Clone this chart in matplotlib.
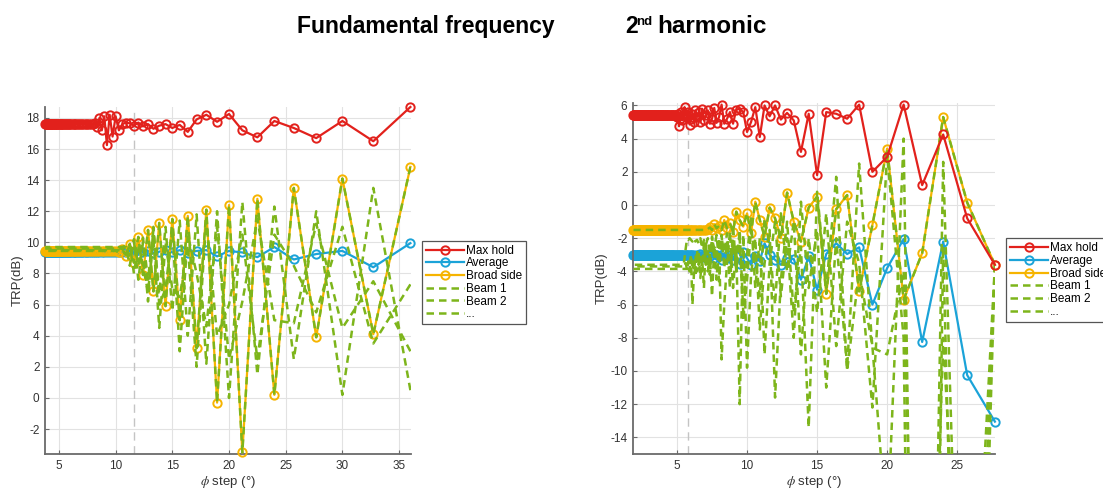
import matplotlib.pyplot as plt
import numpy as np

plt.rcParams['font.family'] = ['Liberation Sans', 'DejaVu Sans']
plt.rcParams['mathtext.fontset'] = 'stix'
plt.rcParams['axes.unicode_minus'] = False

RED = '#e2211c'
BLUE = '#1ba3d8'
ORANGE = '#f6b400'
GREEN = '#7db51b'

# number of beams per scan, phi step = 360 / N
n_fund = np.arange(10, 96)
n_harm = np.arange(13, 191)

# ---- fundamental frequency (N = 10, 11, 12, ...) ----
max_hold_fund = [18.7, 16.5, 17.8, 16.7, 17.35, 17.8, 16.75, 17.2, 18.25, 17.75, 18.2, 17.9,
                 17.1, 17.55, 17.35, 17.6, 17.5, 17.3, 17.6, 17.45, 17.7, 17.5, 17.65, 17.7,
                 17.6, 17.2, 18.1, 16.8, 18.2, 16.25, 18.1, 17.2, 18.0, 17.4, 17.7]
average_fund = [9.95, 8.4, 9.45, 9.25, 8.9, 9.7, 9.05, 9.35, 9.45, 9.1, 9.5, 9.45,
                9.3, 9.5, 9.35, 9.5, 9.4, 9.3, 9.45, 9.4, 9.5, 9.35, 9.45, 9.4]
broadside_fund = [14.85, 4.1, 14.1, 3.9, 13.5, 0.2, 12.8, -3.5, 12.4, -0.3, 12.1, 3.2,
                  11.7, 5.0, 11.5, 5.9, 11.25, 6.85, 10.8, 7.9, 10.35, 8.7, 9.9, 9.1, 9.6, 9.35]
beam2_fund = [0.5, 13.5, 0.2, 12.0, 2.5, 12.3, 1.5, 12.6, 0.0, 12.0, 2.2, 11.8,
              4.0, 11.4, 5.6, 11.0, 6.7, 10.8, 7.6, 10.3, 8.5, 10.0, 9.0, 9.8]
beam3_fund = [7.3, 3.5, 11.0, 5.5, 8.5, 10.5, 2.5, 10.5, 6.0, 4.0, 11.5, 2.0,
              9.8, 6.5, 7.0, 10.0, 4.5, 10.2, 6.8, 8.5, 9.8, 8.0, 9.9, 9.2]
beam4_fund = [3.0, 7.5, 4.5, 11.2, 4.8, 5.0, 11.5, 6.2, 2.5, 11.0, 4.6, 8.0,
              10.5, 3.0, 10.8, 7.0, 6.0, 11.0, 6.2, 10.0, 7.6, 10.2, 8.5, 9.7]

# ---- 2nd harmonic (N = 13, 14, 15, ...) ----
max_hold_harm = [-3.6, -0.8, 4.25, 1.2, 6.05, 2.9, 2.0, 6.05, 5.2, 5.5, 5.6, 1.8,
                 5.5, 3.2, 5.1, 5.55, 5.15, 6.0, 5.35, 6.0, 4.1, 5.9, 5.0, 4.4,
                 5.6, 5.8, 5.75, 4.9, 5.6, 5.2, 4.9, 6.05, 5.3, 4.95, 5.85, 5.2,
                 4.9, 5.7, 5.4, 5.1, 5.8, 5.0, 5.6, 5.3, 5.7, 5.0, 5.5, 5.2,
                 4.85, 5.6, 5.3, 5.5, 5.9, 5.4, 5.1, 5.6, 5.2, 4.75, 5.5, 5.3]
average_harm = [-13.05, -10.25, -2.2, -8.25, -2.05, -3.8, -6.0, -2.55, -2.95, -2.3, -2.95, -5.1,
                -3.1, -4.5, -3.25, -3.2, -3.6, -3.3, -3.0, -2.3, -3.4, -3.1, -3.6, -3.2,
                -2.8, -3.55, -3.1, -3.3, -3.0, -3.2, -2.9, -3.3, -3.1, -3.0, -3.2, -2.9,
                -3.1, -3.0, -3.2, -3.0, -3.1, -2.95, -3.1, -3.0, -3.05]
broadside_harm = [-3.6, 0.15, 5.3, -2.9, -5.7, 3.4, -1.2, -5.2, 0.6, -0.25, -5.35, 0.5,
                  -0.15, -2.2, -1.0, 0.75, -2.0, -0.8, -0.15, -1.9, -0.9, 0.2, -1.7, -0.5,
                  -1.3, -0.9, -0.4, -1.6, -1.1, -1.4, -0.9, -1.5, -1.25, -1.4, -1.15, -1.5,
                  -1.35, -1.45]
beam2_harm = [-3.6, -45, 2.6, -70, 4.0, -20, -8.5, -4.0, -10.0, 1.7, -5.0, 0.8,
              -13.4, -2.5, -6.5, -1.0, -4.5, -11.6, -1.5, -3.5, -7.5, -2.0, -4.2, -9.8,
              -1.8, -12.0, -2.5, -5.0, -1.6, -3.5, -6.0, -9.3, -2.0, -4.5, -2.5, -5.5,
              -3.0, -4.0, -2.2, -5.0, -3.2, -4.4, -2.8, -4.0, -3.0, -4.2, -6.0, -3.2,
              -4.0, -3.4, -3.9, -3.5]
beam3_harm = [-3.6, -60, -2.5, -90, -8.0, 3.0, -12.2, -3.5, -1.0, -8.5, -0.5, -6.5,
              -2.0, -9.0, -1.0, -4.0, -0.5, -6.0, -2.5, -0.8, -5.5, -3.0, -1.5, -4.5,
              -7.0, -2.0, -4.0, -1.2, -5.0, -2.2, -3.8, -1.8, -4.6, -2.6, -3.2, -1.9,
              -4.2, -2.8, -3.6, -2.3, -4.0, -3.0, -3.6, -2.7, -4.3, -3.4, -3.9, -3.0]
beam4_harm = [-3.6, -35, -8.0, -50, -4.0, -9.0, -8.6, 2.5, -9.8, -2.0, -11.0, -1.5,
              -5.0, 0.2, -8.0, -2.0, -5.5, -1.0, -3.5, -9.0, -2.0, -5.0, -0.8, -3.0,
              -6.5, -1.5, -3.8, -2.3, -4.0, -1.7, -2.8, -2.0, -3.5, -1.8, -2.6, -2.1,
              -2.9, -2.0, -2.4, -2.1, -2.6, -2.0, -2.3, -2.1, -2.2, -2.0, -2.2, -2.1,
              -2.0, -2.1, -2.05, -2.6, -3.2]


def pad(values, flat, n):
    # the long tail of small phi steps is flat in the measurement
    return np.array(list(values) + [flat] * (n - len(values)))


def draw_panel(ax, n, series, beams, xlim, ylim, yticks, xticks, vline):
    phi = 360.0 / n
    mk = dict(marker='o', markersize=6, markerfacecolor='none', markeredgewidth=1.4)

    ax.axvline(vline, color='#c4c4c4', lw=1.0, dashes=(6, 4), zorder=1)
    ax.plot(phi, series['avg'], color=BLUE, lw=1.6, markeredgecolor=BLUE, zorder=2,
            clip_on=False, **mk)
    ax.plot(phi, series['bs'], color=ORANGE, lw=1.6, markeredgecolor=ORANGE, zorder=3,
            clip_on=False, **mk)
    for b in beams:
        ax.plot(phi, b, color=GREEN, lw=1.8, dashes=(3, 2), zorder=4)
    ax.plot(phi, series['max'], color=RED, lw=1.6, markeredgecolor=RED, zorder=5,
            clip_on=False, **mk)

    ax.set_xlim(*xlim)
    ax.set_ylim(*ylim)
    ax.set_xticks(xticks)
    ax.set_yticks(yticks)
    ax.grid(True, color='#e2e2e2', lw=0.8)
    ax.set_axisbelow(True)
    for s in ['top', 'right']:
        ax.spines[s].set_visible(False)
    for s in ['left', 'bottom']:
        ax.spines[s].set_color('#6a6a6a')
        ax.spines[s].set_linewidth(1.3)
    ax.tick_params(direction='in', length=3, width=0.8, color='#6a6a6a',
                   labelsize=8.5, labelcolor='#333333', pad=4)
    ax.set_xlabel(r'$\phi$ step (°)', fontsize=9.5, color='#333333', labelpad=2)
    ax.set_ylabel('TRP(dB)', fontsize=9.5, color='#333333', labelpad=2)

    handles = [
        plt.Line2D([], [], color=RED, lw=1.6, markeredgecolor=RED, **mk),
        plt.Line2D([], [], color=BLUE, lw=1.6, markeredgecolor=BLUE, **mk),
        plt.Line2D([], [], color=ORANGE, lw=1.6, markeredgecolor=ORANGE, **mk),
        plt.Line2D([], [], color=GREEN, lw=1.8, dashes=(3, 2)),
        plt.Line2D([], [], color=GREEN, lw=1.8, dashes=(3, 2)),
        plt.Line2D([], [], color=GREEN, lw=1.8, dashes=(3, 2)),
    ]
    labels = ['Max hold', 'Average', 'Broad side', 'Beam 1', 'Beam 2', '...']
    leg = ax.legend(handles, labels, loc='upper left', bbox_to_anchor=(1.03, 0.615),
                    borderaxespad=0, fontsize=8.5, handlelength=3.2, handletextpad=0.2,
                    labelspacing=0.06, borderpad=0.35, fancybox=False, framealpha=1,
                    numpoints=1)
    leg.get_frame().set_edgecolor('#555555')
    leg.get_frame().set_linewidth(0.9)


def main():
    fig = plt.figure(figsize=(11.03, 4.91), dpi=100)
    ax1 = fig.add_axes([0.0408, 0.0754, 0.3318, 0.7067])
    ax2 = fig.add_axes([0.5739, 0.0754, 0.3282, 0.7149])

    nf = len(n_fund)
    fund = {
        'max': pad(max_hold_fund, 17.6, nf),
        'avg': pad(average_fund, 9.4, nf),
        'bs': pad(broadside_fund, 9.45, nf),
    }
    beams_f = [fund['bs'], pad(beam2_fund, 9.7, nf), pad(beam3_fund, 9.5, nf),
               pad(beam4_fund, 9.6, nf)]
    draw_panel(ax1, n_fund, fund, beams_f, (3.77, 36.05), (-3.6, 18.7),
               np.arange(-2, 19, 2), [5, 10, 15, 20, 25, 30, 35], 11.6)

    nh = len(n_harm)
    harm = {
        'max': pad(max_hold_harm, 5.45, nh),
        'avg': pad(average_harm, -3.0, nh),
        'bs': pad(broadside_harm, -1.5, nh),
    }
    beams_h = [harm['bs'], pad(beam2_harm, -3.6, nh), pad(beam3_harm, -3.85, nh),
               pad(beam4_harm, -3.7, nh)]
    draw_panel(ax2, n_harm, harm, beams_h, (1.86, 27.7), (-15, 6.15),
               np.arange(-14, 7, 2), [5, 10, 15, 20, 25], 5.8)

    fig.text(297 / 1103, 1 - 33 / 491, 'Fundamental frequency', fontsize=16.5,
             fontweight='bold', ha='left', va='baseline')
    fig.text(625 / 1103, 1 - 33 / 491, '2', fontsize=16.5, fontweight='bold',
             ha='left', va='baseline')
    fig.text(636 / 1103, 1 - 25 / 491, 'nd', fontsize=9.5, fontweight='bold',
             ha='left', va='baseline')
    fig.text(657 / 1103, 1 - 33 / 491, 'harmonic', fontsize=17.5, fontweight='bold',
             ha='left', va='baseline')

    fig.savefig('out.png', dpi=100)


if __name__ == "__main__":

    main()
